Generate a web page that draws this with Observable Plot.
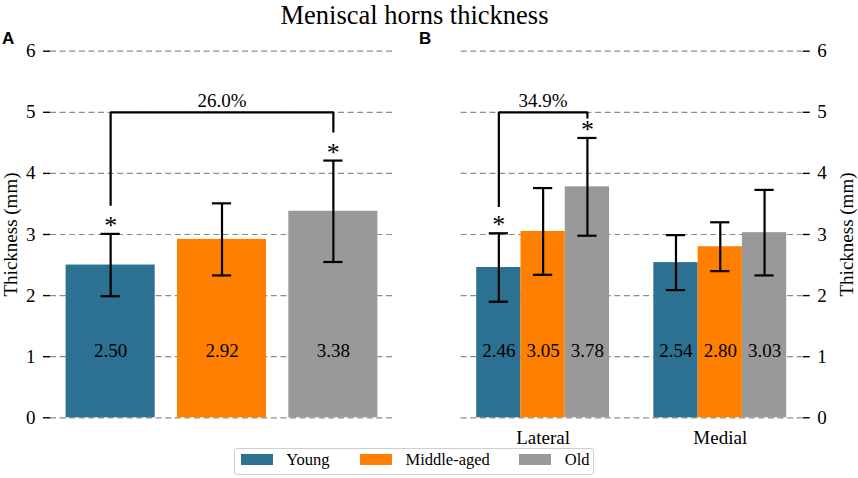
<!DOCTYPE html>
<html><head><meta charset="utf-8">
<script src="https://cdn.jsdelivr.net/npm/d3@7"></script>
<script src="https://cdn.jsdelivr.net/npm/@observablehq/plot@0.6"></script>
<style>
body{margin:0;background:#fff;}
#chart{position:relative;width:858px;height:478px;font-family:"Liberation Serif","Times New Roman",serif;color:#000;overflow:hidden;background:#fff}
.abs{position:absolute;white-space:nowrap;line-height:1}
#chart svg{position:absolute;top:0;overflow:visible;font-family:"Liberation Serif","Times New Roman",serif}
#chart svg text{font-family:"Liberation Serif","Times New Roman",serif}
</style></head><body><div id="chart"></div>
<script>
// ---- data ----
const title = "Meniscal horns thickness";
const yLabel = "Thickness (mm)";
const panelLabels = ["A", "B"];
const groups = ["Young", "Middle-aged", "Old"];
const colors = ["#2c7191", "#ff8000", "#999999"];
const meanA = [2.50, 2.92, 3.38];
const sdA = [0.51, 0.59, 0.83];
const sites = ["Lateral", "Medial"];
const meanLateral = [2.46, 3.05, 3.78];
const sdLateral = [0.56, 0.71, 0.80];
const meanMedial = [2.54, 2.80, 3.03];
const sdMedial = [0.45, 0.40, 0.70];
const yTicks = [0, 1, 2, 3, 4, 5, 6];
const bracketA = {from: 0, to: 2, level: 5, ends: [3.47, 4.67], label: "26.0%"};
const bracketB = {from: 0, to: 2, level: 5, ends: [3.45, 4.90], label: "34.9%"};

// ---- tables ----
const rowsA = groups.map((g, i) => ({group: g, x: i, mean: meanA[i], sd: sdA[i]}));
const siteMeans = [meanLateral, meanMedial];
const siteSds = [sdLateral, sdMedial];
const rowsB = sites.flatMap((s, si) => groups.map((g, gi) => ({
  site: s, group: g, x: si + (gi - 1) * 0.25, mean: siteMeans[si][gi], sd: siteSds[si][gi]
})));
for (const r of [...rowsA, ...rowsB]) { r.lo = r.mean - r.sd; r.hi = r.mean + r.sd; }

const FF = '"Liberation Serif","Times New Roman",serif';
const capPx = 9.6;
function panel(o) {
  const pxPerUnit = (o.width - o.ml - o.mr) / (o.xDomain[1] - o.xDomain[0]);
  const cap = capPx / pxPerUnit;
  const b = o.bracket;
  const r0 = o.rows[b.from], r1 = o.rows[b.to];
  const path = [
    {x: r0.x, y: b.ends[0]}, {x: r0.x, y: b.level},
    {x: r1.x, y: b.level}, {x: r1.x, y: b.ends[1]}
  ];
  const marks = [
    Plot.gridY(yTicks, {stroke: "#8c8c8c", strokeOpacity: 1, strokeWidth: 1.2, strokeDasharray: "6,3.6"}),
    Plot.rect(o.rows, {x1: d => d.x - o.half, x2: d => d.x + o.half, y1: 0, y2: "mean", fill: "group"}),
    Plot.text(o.rows, {x: "x", y: 1, text: d => d.mean.toFixed(2), lineAnchor: "bottom", fontSize: 19, fontFamily: FF}),
    Plot.ruleX(o.rows, {x: "x", y1: "lo", y2: "hi", stroke: "#000", strokeWidth: 2.2}),
    Plot.ruleY(o.rows, {y: "lo", x1: d => d.x - cap, x2: d => d.x + cap, stroke: "#000", strokeWidth: 2.2}),
    Plot.ruleY(o.rows, {y: "hi", x1: d => d.x - cap, x2: d => d.x + cap, stroke: "#000", strokeWidth: 2.2}),
    Plot.line(path, {x: "x", y: "y", stroke: "#000", strokeWidth: 2.2, strokeLinejoin: "miter", strokeLinecap: "butt"}),
    Plot.text([{x: (r0.x + r1.x) / 2, y: b.level, label: b.label}], {x: "x", y: "y", text: "label", lineAnchor: "bottom", dy: -5, fontSize: 19, fontFamily: FF}),
    Plot.text([r0, r1], {x: "x", y: "hi", text: () => "*", lineAnchor: "bottom", fontSize: 26, fontFamily: FF}),
    Plot.axisY({anchor: o.anchor, ticks: yTicks, tickSize: 7, tickPadding: 8, strokeWidth: 1.4, label: null, tickFormat: d => String(d), fontSize: 19, fontFamily: FF}),
    Plot.text([yLabel], {frameAnchor: o.anchor, dx: o.labelDx, rotate: -90, text: d => d, fontSize: 19, fontFamily: FF, lineAnchor: "middle", textAnchor: "middle"})
  ];
  if (o.xTicks) marks.push(Plot.axisX({ticks: o.xTicks, tickSize: 0, tickPadding: 13, tickFormat: d => o.xLabels[d], label: null, fontSize: 19, fontFamily: FF}));
  return Plot.plot({
    width: o.width, height: o.height,
    marginLeft: o.ml, marginRight: o.mr, marginTop: o.mt, marginBottom: o.mb,
    x: {type: "linear", domain: o.xDomain, axis: o.xTicks ? undefined : null},
    y: {domain: [0, 6]},
    color: {domain: groups, range: colors},
    style: {fontFamily: FF, fontSize: "19px", color: "#000", background: "transparent", overflow: "visible"},
    marks
  });
}

const chart = document.getElementById("chart");

const svgA = panel({
  rows: rowsA, xDomain: [-0.54, 2.54], half: 0.4,
  width: 430, height: 440, ml: 50, mr: 37, mt: 50.7, mb: 22.7,
  anchor: "left", bracket: bracketA, labelDx: -39.5
});
svgA.style.left = "0px";
chart.appendChild(svgA);

const svgB = panel({
  rows: rowsB, xDomain: [-0.4625, 1.4625], half: 0.125,
  width: 428, height: 460, ml: 30.7, mr: 56.3, mt: 50.7, mb: 42.7,
  anchor: "right", bracket: bracketB, labelDx: 44.8,
  xTicks: sites.map((s, i) => i), xLabels: sites
});
svgB.style.left = "430px";
chart.appendChild(svgB);

// title
const t = document.createElement("div");
t.className = "abs";
Object.assign(t.style, {left: "0px", width: "829px", textAlign: "center", top: "0px", fontSize: "26.5px", lineHeight: "1.15"});
t.textContent = title;
chart.appendChild(t);

// panel letters
[[2, panelLabels[0]], [419, panelLabels[1]]].forEach(([x, s]) => {
  const d = document.createElement("div");
  d.className = "abs";
  Object.assign(d.style, {left: x + "px", top: "29.9px", fontSize: "17px", fontWeight: "bold", fontFamily: '"Liberation Sans",Arial,sans-serif'});
  d.textContent = s;
  chart.appendChild(d);
});

// legend
const lg = document.createElement("div");
Object.assign(lg.style, {position: "absolute", left: "234px", top: "448.3px", width: "358px", height: "25px", border: "1px solid #cfcfcf", borderRadius: "3px", background: "#fff"});
chart.appendChild(lg);
const swX = [240.7, 360, 519.3];
groups.forEach((g, i) => {
  const sw = document.createElement("div");
  Object.assign(sw.style, {position: "absolute", left: swX[i] + "px", top: "454px", width: "32px", height: "11px", background: colors[i]});
  chart.appendChild(sw);
  const lb = document.createElement("div");
  lb.className = "abs";
  Object.assign(lb.style, {left: (swX[i] + 45.5) + "px", top: "452.2px", fontSize: "16.5px"});
  lb.textContent = g;
  chart.appendChild(lb);
});
</script></body></html>
